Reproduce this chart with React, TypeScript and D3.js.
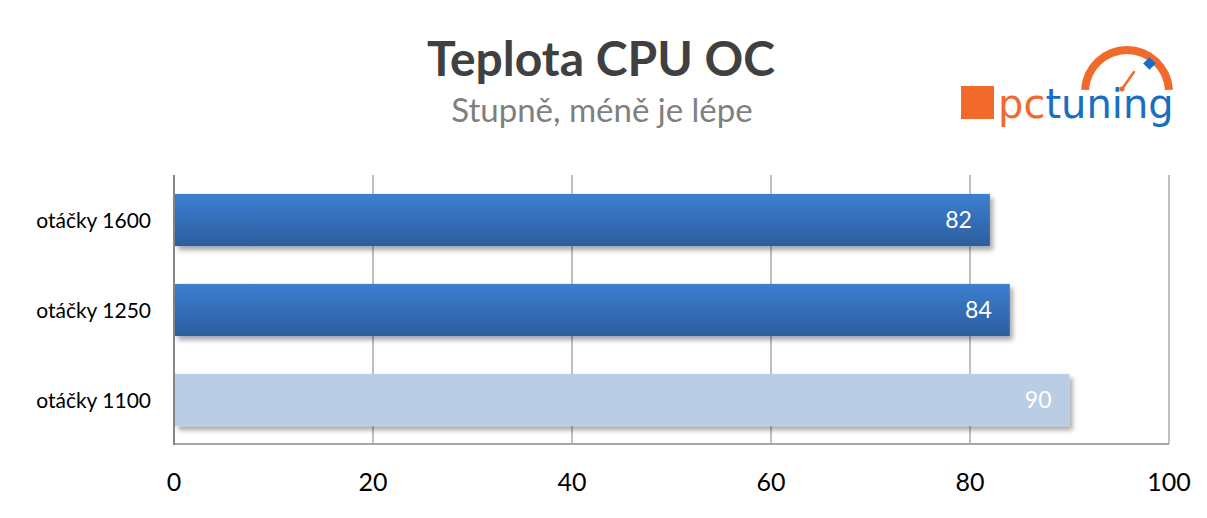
import React from 'react';
import * as d3 from 'd3';

const categories = ['otáčky 1600', 'otáčky 1250', 'otáčky 1100'];
const values = [82, 84, 90];
const highlighted = [true, true, false];
const xTicks = [0, 20, 40, 60, 80, 100];

const W = 1207;
const H = 518;
const FONT = 'Lato, "Open Sans", sans-serif';

const App: React.FC = () => {
  const x = d3.scaleLinear().domain([0, 100]).range([174, 1169]);
  const y = d3.scaleBand<string>().domain(categories).range([175, 445]).paddingInner(0.42).paddingOuter(0.21);
  const gridTop = 175;
  const gridBottom = 444;

  // gauge arc for the logo
  const arc = d3.arc()({
    innerRadius: 38,
    outerRadius: 46,
    startAngle: -Math.PI / 2 + 0.05,
    endAngle: Math.PI / 2 - 0.05,
  } as any) as string;

  return (
    <svg width={W} height={H} style={{ display: 'block', position: 'absolute', left: 0, top: 0, background: '#fff' }}>
      <defs>
        <linearGradient id="barDark" x1="0" y1="0" x2="0" y2="1">
          <stop offset="0%" stopColor="#3d7fd1" />
          <stop offset="100%" stopColor="#2c5d9e" />
        </linearGradient>
        <filter id="shadow" x="-5%" y="-20%" width="115%" height="160%">
          <feGaussianBlur in="SourceAlpha" stdDeviation="2.5" />
          <feOffset dx="3" dy="4" result="b" />
          <feComponentTransfer>
            <feFuncA type="linear" slope="0.35" />
          </feComponentTransfer>
          <feMerge>
            <feMergeNode />
            <feMergeNode in="SourceGraphic" />
          </feMerge>
        </filter>
      </defs>

      <text x={601} y={76} textAnchor="middle" fontFamily={FONT} fontWeight={700} fontSize={48} fill="#404040">
        Teplota CPU OC
      </text>
      <text x={602} y={122} textAnchor="middle" fontFamily={FONT} fontSize={33} fill="#7f7f7f">
        Stupně, méně je lépe
      </text>

      {/* logo */}
      <g>
        <rect x={961} y={86} width={33} height={33} fill="#f26a2b" />
        <path d={arc} transform="translate(1127,92)" fill="#f26a2b" />
        <rect x={1145} y={59} width={9} height={9} fill="#1a6ec1" transform="rotate(45 1149.5 63.5)" />
        <line x1={1122} y1={89} x2={1134} y2={72} stroke="#f26a2b" strokeWidth={2.5} strokeLinecap="round" />
        <circle cx={1122} cy={89} r={2.5} fill="#f26a2b" />
        <text x={998} y={118} fontFamily='"DejaVu Sans", sans-serif' fontSize={40} fontWeight={400}>
          <tspan fill="#f26a2b">pc</tspan>
          <tspan fill="#1a6ec1">tuning</tspan>
        </text>
      </g>

      {/* grid */}
      {xTicks.slice(1).map((t) => (
        <line key={t} x1={x(t)} x2={x(t)} y1={gridTop} y2={gridBottom} stroke="#bfbfbf" strokeWidth={2} />
      ))}
      <line x1={x(0)} x2={x(100)} y1={gridBottom} y2={gridBottom} stroke="#a6a6a6" strokeWidth={2} />
      <line x1={x(0)} x2={x(0)} y1={gridTop} y2={gridBottom + 1} stroke="#868686" strokeWidth={2} />

      {/* bars */}
      {categories.map((c, i) => {
        const by = y(c)!;
        const bw = x(values[i]) - x(0);
        return (
          <g key={c}>
            <rect
              x={x(0) + 1}
              y={by}
              width={bw - 1}
              height={y.bandwidth()}
              fill={highlighted[i] ? 'url(#barDark)' : '#b9cde5'}
              filter="url(#shadow)"
            />
            <text
              x={x(values[i]) - 18}
              y={by + y.bandwidth() / 2}
              dy="0.36em"
              textAnchor="end"
              fontFamily={FONT}
              fontSize={23}
              fill="#fff"
            >
              {values[i]}
            </text>
            <text
              x={151}
              y={by + y.bandwidth() / 2}
              dy="0.36em"
              textAnchor="end"
              fontFamily={FONT}
              fontSize={21}
              fill="#000"
            >
              {c}
            </text>
          </g>
        );
      })}

      {/* x axis labels */}
      {xTicks.map((t) => (
        <text key={t} x={x(t)} y={491} textAnchor="middle" fontFamily={FONT} fontSize={25} fill="#000">
          {t}
        </text>
      ))}
    </svg>
  );
};

export default App;
